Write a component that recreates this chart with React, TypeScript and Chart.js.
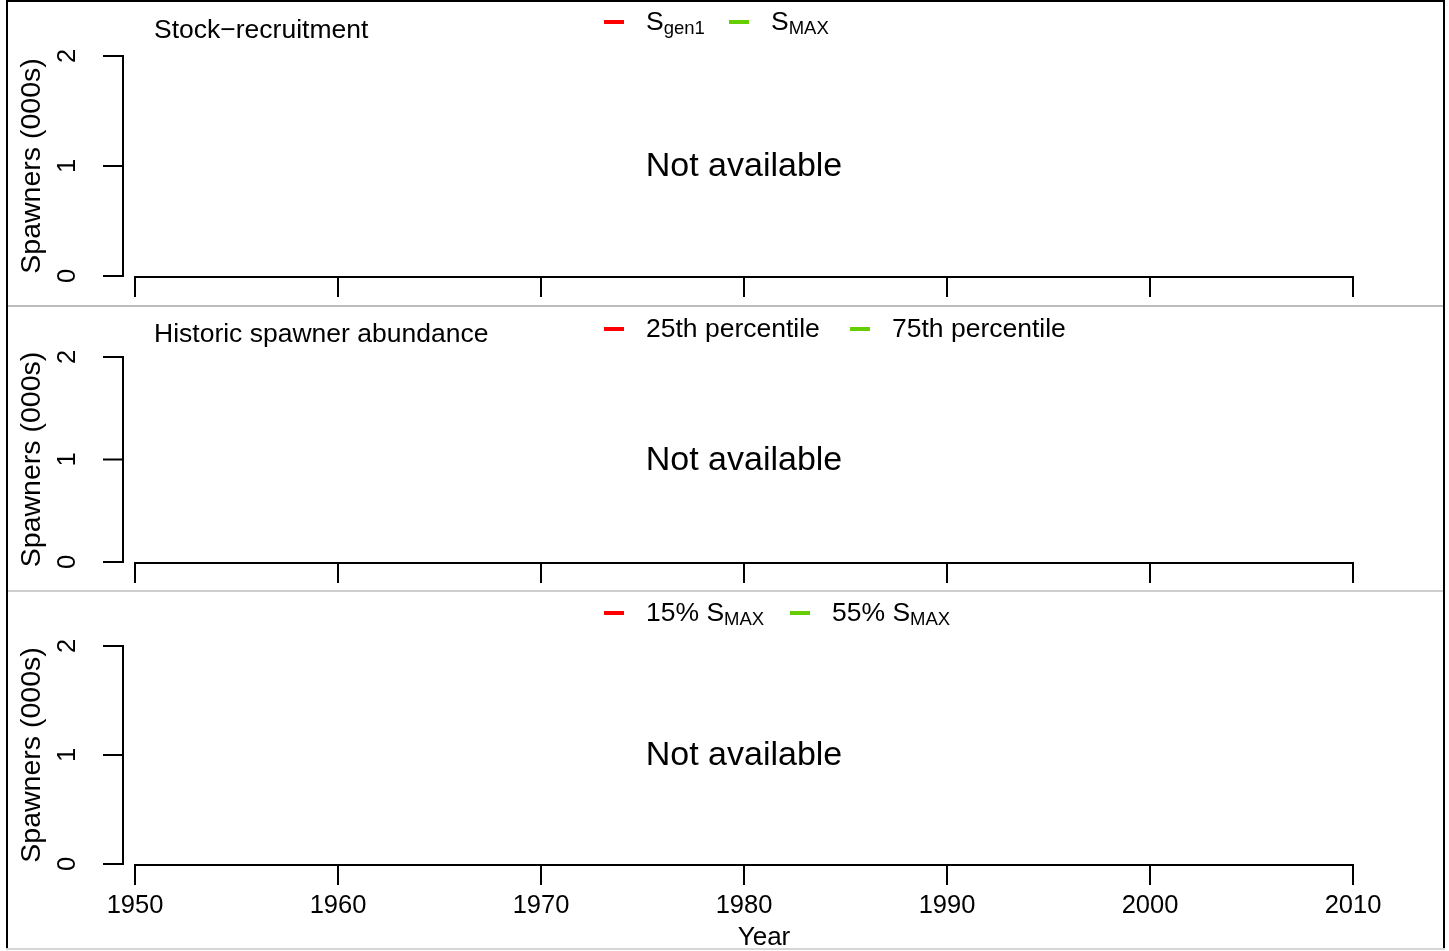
import React, { useEffect, useRef } from "react";
import { Chart, registerables } from "chart.js";

Chart.register(...registerables);

// ---- data ----
const YEAR_TICKS = [1950, 1960, 1970, 1980, 1990, 2000, 2010];
const SPAWNER_TICKS = [0, 1, 2];
const PANEL_TITLES = ["Stock\u2212recruitment", "Historic spawner abundance", ""];
const P1_SERIES = [
  { main: "S", sub: "gen1" },
  { main: "S", sub: "MAX" },
];
const P2_SERIES = [
  { main: "25th percentile", sub: "" },
  { main: "75th percentile", sub: "" },
];
const P3_SERIES = [
  { main: "15% S", sub: "MAX" },
  { main: "55% S", sub: "MAX" },
];
const SERIES_COLORS = ["#ff0000", "#66cd00"];
const NO_DATA_TEXT = "Not available";
const Y_TITLE = "Spawners (000s)";
const X_TITLE = "Year";

const FONT = '"Liberation Sans", Arial, Helvetica, sans-serif';
const W = 1449;

type PanelCfg = {
  top: number;
  height: number;
  yTop: number;
  yZero: number;
  title: string;
  series: { main: string; sub: string }[];
  legendX: number[];
  legendY: number;
  titleY: number;
  showXLabels: boolean;
};

const PANELS: PanelCfg[] = [
  { top: 0, height: 306, yTop: 56, yZero: 276, title: PANEL_TITLES[0], series: P1_SERIES, legendX: [604, 729], legendY: 22, titleY: 31, showXLabels: false },
  { top: 306, height: 284, yTop: 51, yZero: 256, title: PANEL_TITLES[1], series: P2_SERIES, legendX: [604, 850], legendY: 23, titleY: 29, showXLabels: false },
  { top: 590, height: 361, yTop: 56, yZero: 274, title: PANEL_TITLES[2], series: P3_SERIES, legendX: [604, 790], legendY: 23, titleY: 29, showXLabels: true },
];

function makePlugin(cfg: PanelCfg) {
  return {
    id: "rstyle",
    afterDraw(chart: any) {
      const ctx = chart.ctx as CanvasRenderingContext2D;
      const xs = chart.scales.x;
      const ys = chart.scales.y;
      const ca = chart.chartArea;
      ctx.save();
      ctx.strokeStyle = "#000";
      ctx.fillStyle = "#000";
      ctx.lineWidth = 2;
      ctx.lineCap = "butt";

      // y axis
      const ax = ca.left - 12;
      const yMin = ys.getPixelForValue(SPAWNER_TICKS[0]);
      const yMax = ys.getPixelForValue(SPAWNER_TICKS[SPAWNER_TICKS.length - 1]);
      ctx.beginPath();
      ctx.moveTo(ax, yMin);
      ctx.lineTo(ax, yMax);
      for (const t of SPAWNER_TICKS) {
        const p = ys.getPixelForValue(t);
        ctx.moveTo(ax + 1, p);
        ctx.lineTo(ax - 20, p);
      }
      ctx.stroke();
      ctx.font = `25.5px ${FONT}`;
      ctx.textAlign = "center";
      ctx.textBaseline = "middle";
      for (const t of SPAWNER_TICKS) {
        const p = ys.getPixelForValue(t);
        ctx.save();
        ctx.translate(68, p);
        ctx.rotate(-Math.PI / 2);
        ctx.fillText(String(t), 0, 0);
        ctx.restore();
      }
      ctx.font = `28.5px ${FONT}`;
      ctx.save();
      ctx.translate(32, (yMin + yMax) / 2);
      ctx.rotate(-Math.PI / 2);
      ctx.fillText(Y_TITLE, 0, 0);
      ctx.restore();

      // x axis
      const ay = yMin + 1;
      const x0 = xs.getPixelForValue(YEAR_TICKS[0]);
      const x1 = xs.getPixelForValue(YEAR_TICKS[YEAR_TICKS.length - 1]);
      ctx.beginPath();
      ctx.moveTo(x0, ay);
      ctx.lineTo(x1, ay);
      for (const t of YEAR_TICKS) {
        const p = xs.getPixelForValue(t);
        ctx.moveTo(p, ay - 1);
        ctx.lineTo(p, ay + 20);
      }
      ctx.stroke();
      if (cfg.showXLabels) {
        ctx.font = `25.5px ${FONT}`;
        for (const t of YEAR_TICKS) {
          const p = xs.getPixelForValue(t);
          ctx.fillText(String(t), p, ay + 41);
        }
        ctx.font = `26px ${FONT}`;
        ctx.fillText(X_TITLE, (x0 + x1) / 2 + 20, ay + 73);
      }

      // no data text
      ctx.font = `34px ${FONT}`;
      ctx.fillText(NO_DATA_TEXT, (x0 + x1) / 2, ys.getPixelForValue(1) + 1);

      // title
      if (cfg.title) {
        ctx.font = `26.5px ${FONT}`;
        ctx.textAlign = "left";
        ctx.fillText(cfg.title, 154, cfg.titleY);
      }

      // legend
      const dsets = chart.data.datasets;
      ctx.textAlign = "left";
      dsets.forEach((ds: any, i: number) => {
        const lx = cfg.legendX[i];
        const ly = cfg.legendY;
        ctx.strokeStyle = ds.borderColor;
        ctx.lineWidth = 4;
        ctx.beginPath();
        ctx.moveTo(lx, ly);
        ctx.lineTo(lx + 20, ly);
        ctx.stroke();
        const s = cfg.series[i];
        ctx.fillStyle = "#000";
        ctx.font = `26.5px ${FONT}`;
        const tx = lx + 42;
        ctx.fillText(s.main, tx, ly + 1);
        if (s.sub) {
          const w = ctx.measureText(s.main).width;
          ctx.font = `18.5px ${FONT}`;
          ctx.fillText(s.sub, tx + w, ly + 7);
        }
      });
      ctx.restore();
    },
  };
}

function Panel({ cfg }: { cfg: PanelCfg }) {
  const ref = useRef<HTMLCanvasElement | null>(null);
  useEffect(() => {
    if (!ref.current) return;
    const chart = new Chart(ref.current, {
      type: "line",
      data: {
        datasets: cfg.series.map((s, i) => ({
          label: s.main + s.sub,
          data: [] as { x: number; y: number }[],
          borderColor: SERIES_COLORS[i],
          backgroundColor: SERIES_COLORS[i],
        })),
      },
      options: {
        animation: false,
        responsive: false,
        devicePixelRatio: 1,
        layout: {
          padding: {
            left: 135,
            right: W - 1353,
            top: cfg.yTop,
            bottom: cfg.height - cfg.yZero,
          },
        },
        scales: {
          x: { type: "linear", min: YEAR_TICKS[0], max: YEAR_TICKS[YEAR_TICKS.length - 1], display: false },
          y: { type: "linear", min: SPAWNER_TICKS[0], max: SPAWNER_TICKS[SPAWNER_TICKS.length - 1], display: false },
        },
        plugins: { legend: { display: false }, tooltip: { enabled: false } },
      },
      plugins: [makePlugin(cfg)],
    });
    return () => chart.destroy();
  }, [cfg]);
  return (
    <canvas
      ref={ref}
      width={W}
      height={cfg.height}
      style={{ position: "absolute", left: 0, top: cfg.top, width: W, height: cfg.height, display: "block" }}
    />
  );
}

export default function App() {
  return (
    <div style={{ position: "fixed", left: 0, top: 0, width: W, height: 951, background: "#fff", overflow: "hidden" }}>
      {PANELS.map((p, i) => (
        <Panel key={i} cfg={p} />
      ))}
      <div style={{ position: "absolute", left: 6, top: 0, width: 2, height: 949, background: "#000" }} />
      <div style={{ position: "absolute", left: 1443, top: 0, width: 2, height: 949, background: "#000" }} />
      <div style={{ position: "absolute", left: 6, top: 0, width: 1439, height: 2, background: "#000" }} />
      <div style={{ position: "absolute", left: 8, top: 305, width: 1435, height: 2, background: "#bdbdbd" }} />
      <div style={{ position: "absolute", left: 8, top: 590, width: 1435, height: 2, background: "#cfcfcf" }} />
      <div style={{ position: "absolute", left: 6, top: 948, width: 1439, height: 2, background: "#d6d6d6" }} />
    </div>
  );
}
